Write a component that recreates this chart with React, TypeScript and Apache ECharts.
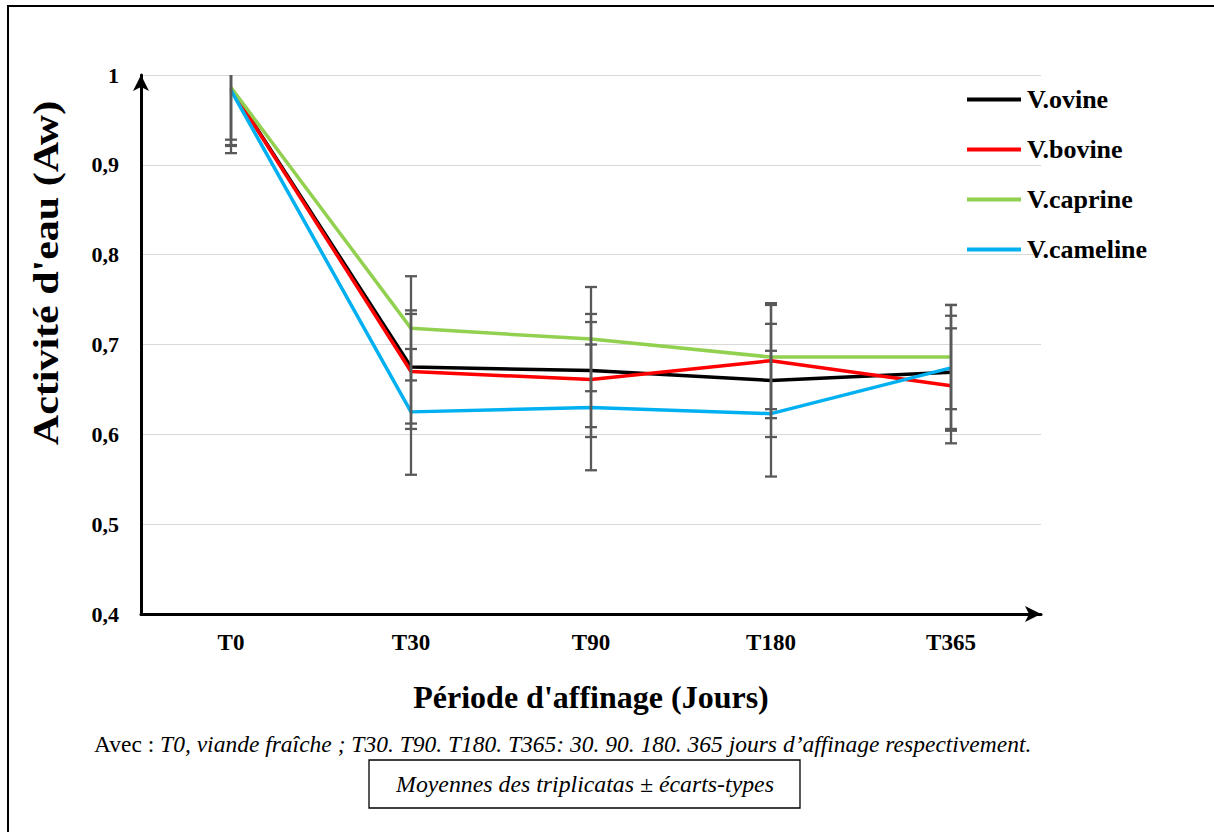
import React, { useEffect, useRef } from "react";
import * as echarts from "echarts";

const categories = ["T0", "T30", "T90", "T180", "T365"];
const seriesNames = ["V.ovine", "V.bovine", "V.caprine", "V.cameline"];
const seriesColors = ["#000000", "#FF0000", "#92D050", "#00B0F0"];

const ovineMean = [0.985, 0.675, 0.671, 0.66, 0.669];
const bovineMean = [0.985, 0.67, 0.661, 0.682, 0.654];
const caprineMean = [0.986, 0.718, 0.706, 0.686, 0.686];
const camelineMean = [0.983, 0.625, 0.63, 0.623, 0.674];

const ovineSd = [0.063, 0.063, 0.063, 0.063, 0.063];
const bovineSd = [0.064, 0.064, 0.064, 0.064, 0.064];
const caprineSd = [0.058, 0.058, 0.058, 0.058, 0.058];
const camelineSd = [0.07, 0.07, 0.07, 0.07, 0.07];

const yTicks = [0.4, 0.5, 0.6, 0.7, 0.8, 0.9, 1];

const means = [ovineMean, bovineMean, caprineMean, camelineMean];
const sds = [ovineSd, bovineSd, caprineSd, camelineSd];

const FONT = "'Liberation Serif', 'Times New Roman', serif";
const Y_MIN = yTicks[0];
const Y_MAX = yTicks[yTicks.length - 1];

export default function App() {
  const ref = useRef<HTMLDivElement>(null);
  useEffect(() => {
    if (!ref.current) return;
    const chart = echarts.init(ref.current, null, { renderer: "svg" });

    const errData: number[][] = [];
    means.forEach((m, s) => {
      m.forEach((v, i) => {
        errData.push([i, v - sds[s][i], v + sds[s][i]]);
      });
    });

    const lineSeries = seriesNames.map((name, s) => ({
      name,
      type: "line",
      data: means[s],
      symbol: "none",
      lineStyle: { color: seriesColors[s], width: 3.5 },
      itemStyle: { color: seriesColors[s] },
      z: 3,
    }));

    const option: any = {
      animation: false,
      backgroundColor: "#ffffff",
      grid: { left: 141, right: 173, top: 75, bottom: 218, containLabel: false },
      legend: {
        orient: "vertical",
        left: 967,
        top: 86,
        padding: 0,
        itemWidth: 54,
        itemHeight: 4,
        itemGap: 23,
        icon: "rect",
        data: seriesNames,
        textStyle: {
          fontFamily: FONT,
          fontWeight: "bold",
          fontSize: 26,
          color: "#000",
          lineHeight: 27,
          padding: [0, 0, 0, 1],
        },
      },
      xAxis: {
        type: "category",
        data: categories,
        boundaryGap: true,
        axisLine: {
          lineStyle: { color: "#000", width: 3 },
          symbol: ["none", "arrow"],
          symbolSize: [12, 16],
          symbolOffset: [0, 0],
        },
        axisTick: { show: false },
        axisLabel: {
          fontFamily: FONT,
          fontWeight: "bold",
          fontSize: 23,
          color: "#000",
          margin: 17,
        },
        name: "Période d'affinage (Jours)",
        nameLocation: "middle",
        nameGap: 67,
        nameTextStyle: {
          fontFamily: FONT,
          fontWeight: "bold",
          fontSize: 32,
          color: "#000",
        },
      },
      yAxis: {
        type: "value",
        min: Y_MIN,
        max: Y_MAX,
        interval: 0.1,
        axisLine: {
          show: true,
          lineStyle: { color: "#000", width: 3 },
          symbol: ["none", "arrow"],
          symbolSize: [12, 16],
          symbolOffset: [0, 0],
        },
        axisTick: { show: false },
        splitLine: { lineStyle: { color: "#d9d9d9", width: 1 } },
        axisLabel: {
          fontFamily: FONT,
          fontWeight: "bold",
          fontSize: 22,
          color: "#000",
          margin: 22,
          formatter: (v: number) =>
            Math.abs(v - 1) < 1e-9 ? "1" : v.toFixed(1).replace(".", ","),
        },
      },
      series: [
        ...lineSeries,
        {
          type: "custom",
          name: "errors",
          data: errData,
          z: 4,
          renderItem: (params: any, api: any) => {
            const idx = api.value(0);
            const low = api.value(1);
            const high = api.value(2);
            const hClamped = Math.min(high, Y_MAX);
            const lClamped = Math.max(low, Y_MIN);
            const top = api.coord([idx, hClamped]);
            const bot = api.coord([idx, lClamped]);
            const hw = 6;
            const style = { stroke: "#595959", lineWidth: 2.3 };
            const children: any[] = [
              {
                type: "line",
                shape: { x1: top[0], y1: top[1], x2: bot[0], y2: bot[1] },
                style,
              },
            ];
            if (high <= Y_MAX) {
              children.push({
                type: "line",
                shape: { x1: top[0] - hw, y1: top[1], x2: top[0] + hw, y2: top[1] },
                style,
              });
            }
            if (low >= Y_MIN) {
              children.push({
                type: "line",
                shape: { x1: bot[0] - hw, y1: bot[1], x2: bot[0] + hw, y2: bot[1] },
                style,
              });
            }
            return { type: "group", children };
          },
        },
      ],
      graphic: [
        {
          type: "rect",
          shape: { x: 8, y: 6, width: 1260, height: 900 },
          style: { fill: "none", stroke: "#000", lineWidth: 2 },
          silent: true,
        },
        {
          type: "text",
          x: 46,
          y: 273,
          rotation: Math.PI / 2,
          scaleX: 1.2,
          style: {
            text: "Activité d'eau (Aw)",
            fontFamily: FONT,
            fontWeight: "bold",
            fontSize: 35,
            fill: "#000",
            align: "center",
            verticalAlign: "middle",
          },
        },
        {
          type: "text",
          x: 94,
          y: 744,
          style: {
            text: "{n|Avec : }{i|T0, viande fraîche ; T30. T90. T180. T365: 30. 90. 180. 365 jours d’affinage respectivement.}",
            verticalAlign: "middle",
            rich: {
              n: { fontFamily: FONT, fontSize: 23.5, fill: "#000" },
              i: { fontFamily: FONT, fontSize: 23.5, fontStyle: "italic", fill: "#000" },
            },
          },
        },
        {
          type: "rect",
          shape: { x: 369, y: 760, width: 431, height: 48 },
          style: { fill: "#fff", stroke: "#000", lineWidth: 1.3 },
        },
        {
          type: "text",
          x: 585,
          y: 784,
          style: {
            text: "Moyennes des triplicatas ± écarts-types",
            fontFamily: FONT,
            fontSize: 23.8,
            fontStyle: "italic",
            fill: "#000",
            align: "center",
            verticalAlign: "middle",
          },
        },
      ],
    };

    chart.setOption(option);
    return () => chart.dispose();
  }, []);

  return (
    <div
      ref={ref}
      style={{ position: "fixed", left: 0, top: 0, width: 1214, height: 832 }}
    />
  );
}
